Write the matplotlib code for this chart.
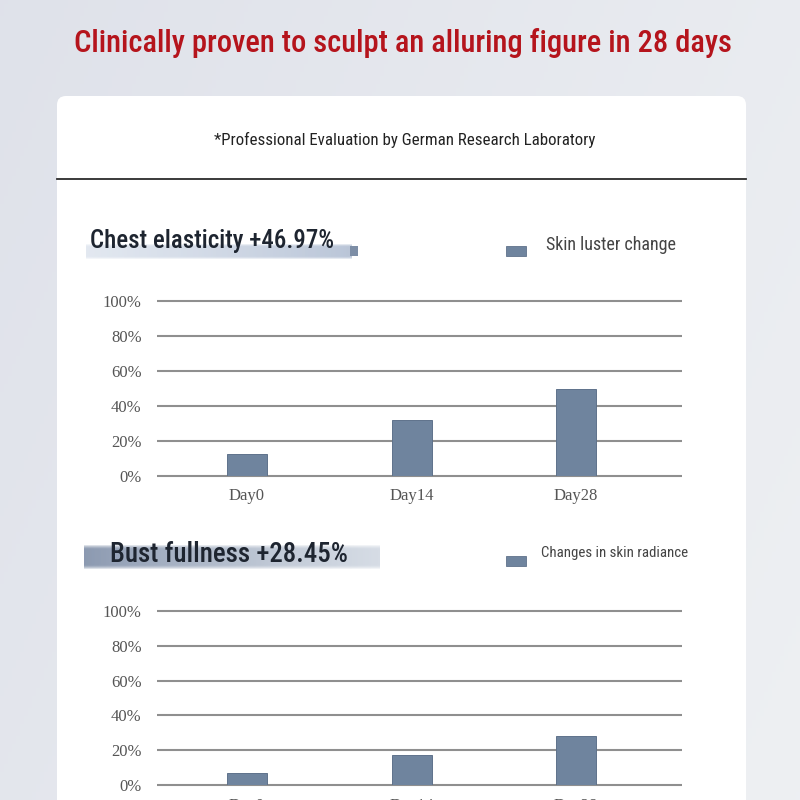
import numpy as np
import matplotlib.pyplot as plt
from matplotlib.patches import FancyBboxPatch, Rectangle

# chart data
days = ["Day0", "Day14", "Day28"]
chest_values = [12.5, 32, 50]
bust_values = [7, 17.3, 28.3]
y_ticks = [0, 20, 40, 60, 80, 100]
y_tick_labels = ["0%", "20%", "40%", "60%", "80%", "100%"]

title = "Clinically proven to sculpt an alluring figure in 28 days"
subtitle = "*Professional Evaluation by German Research Laboratory"
chest_heading = "Chest elasticity +46.97%"
bust_heading = "Bust fullness +28.45%"
chest_legend = "Skin luster change"
bust_legend = "Changes in skin radiance"

NARROW = ['Roboto Condensed', 'Liberation Sans Narrow', 'DejaVu Sans']
SERIF = ['Liberation Serif', 'DejaVu Serif']
BAR_COLOR = '#6f849e'
GRID_COLOR = '#8f8f8f'

fig = plt.figure(figsize=(8, 8), dpi=100)
renderer = fig.canvas.get_renderer()

# background layer in pixel coordinates (y down)
bg = fig.add_axes([0, 0, 1, 1])
bg.set_xlim(0, 800)
bg.set_ylim(800, 0)
bg.axis('off')

gx = np.linspace(0, 1, 200)
gy = np.linspace(0, 1, 200)
GX, GY = np.meshgrid(gx, gy)
left_col = np.array([0.875, 0.886, 0.918])
right_col = np.array([0.933, 0.941, 0.953])
t = np.clip(0.7 * GX + 0.3 * GY, 0, 1)[..., None]
grad = left_col * (1 - t) + right_col * t
bg.imshow(grad, extent=[0, 800, 800, 0], aspect='auto', zorder=0)

card = FancyBboxPatch((57, 96), 689, 760, boxstyle="round,pad=0,rounding_size=9",
                      facecolor='white', edgecolor='none', zorder=1)
bg.add_patch(card)
bg.plot([57, 746], [178.5, 178.5], color='#2b2b2b', lw=1.3, zorder=2)


def fit_text(x, y, s, width_px, max_size, **kw):
    # shrink a label so it spans about the same width as in the reference
    txt = bg.text(x, y, s, fontsize=max_size, fontstretch='condensed', zorder=3, **kw)
    w = txt.get_window_extent(renderer).width
    if w > width_px:
        txt.set_fontsize(max_size * width_px / w)
    return txt


fit_text(403, 43, title, 661, 23, color='#b5141c', family=NARROW,
         weight='medium', ha='center', va='center')
fit_text(405, 140, subtitle, 378, 13, color='#222222', family=NARROW,
         ha='center', va='center')


def brush(x0, x1, y0, y1, c_left, c_right, a_left, a_right):
    # soft brush stroke behind a heading
    n = 200
    s = np.linspace(0, 1, n)
    cl = np.array(c_left)
    cr = np.array(c_right)
    rgb = cl[None, :] * (1 - s[:, None]) + cr[None, :] * s[:, None]
    alpha = a_left * (1 - s) + a_right * s
    v = np.linspace(-1, 1, 30)
    fade = np.clip(1.25 - v ** 4, 0, 1)
    img = np.zeros((30, n, 4))
    img[..., :3] = rgb[None, :, :]
    img[..., 3] = alpha[None, :] * fade[:, None]
    bg.imshow(img, extent=[x0, x1, y1, y0], aspect='auto', zorder=2,
              interpolation='bilinear')


brush(86, 352, 244, 259, (0.80, 0.84, 0.90), (0.70, 0.75, 0.83), 0.55, 0.9)
bg.add_patch(Rectangle((350, 246), 8, 10, facecolor='#7d8ea6', edgecolor='none', zorder=2))
brush(84, 380, 545, 569, (0.50, 0.56, 0.66), (0.68, 0.73, 0.80), 0.9, 0.5)

fit_text(90, 241, chest_heading, 244, 21, color='#1e2530', family=NARROW,
         weight='medium', ha='left', va='center')
fit_text(110, 555, bust_heading, 238, 21, color='#1e2530', family=NARROW,
         weight='medium', ha='left', va='center')

bg.add_patch(Rectangle((506, 246), 20, 10, facecolor=BAR_COLOR, edgecolor='#5f728b',
                       lw=0.6, zorder=3))
fit_text(546, 245, chest_legend, 130, 13, color='#444444', family=NARROW,
         ha='left', va='center')
bg.add_patch(Rectangle((506, 556), 20, 10, facecolor=BAR_COLOR, edgecolor='#5f728b',
                       lw=0.6, zorder=3))
fit_text(541, 553, bust_legend, 146, 11.5, color='#444444', family=NARROW,
         ha='left', va='center')


def bar_panel(top_px, bottom_px, values):
    ax = fig.add_axes([157 / 800, 1 - bottom_px / 800, 525 / 800,
                       (bottom_px - top_px) / 800])
    ax.set_facecolor('none')
    x = np.arange(len(days))
    ax.set_xlim(-0.547, 2.644)
    ax.set_ylim(0, 100)
    ax.hlines(y_ticks, -0.547, 2.644, color=GRID_COLOR, lw=1.5, clip_on=False, zorder=1)
    ax.bar(x, values, width=0.243, color=BAR_COLOR, edgecolor='#5f728b', lw=0.7, zorder=2)
    ax.set_yticks(y_ticks)
    ax.set_yticklabels(y_tick_labels)
    ax.set_xticks(x)
    ax.set_xticklabels(days)
    ax.tick_params(length=0, labelsize=12, labelcolor='#555555')
    ax.tick_params(axis='y', pad=11)
    ax.tick_params(axis='x', pad=9)
    for lab in ax.get_xticklabels() + ax.get_yticklabels():
        lab.set_family(SERIF)
    for sp in ax.spines.values():
        sp.set_visible(False)
    return ax


bar_panel(301, 476, chest_values)
bar_panel(611, 785, bust_values)

fig.savefig("out.png", dpi=100)
